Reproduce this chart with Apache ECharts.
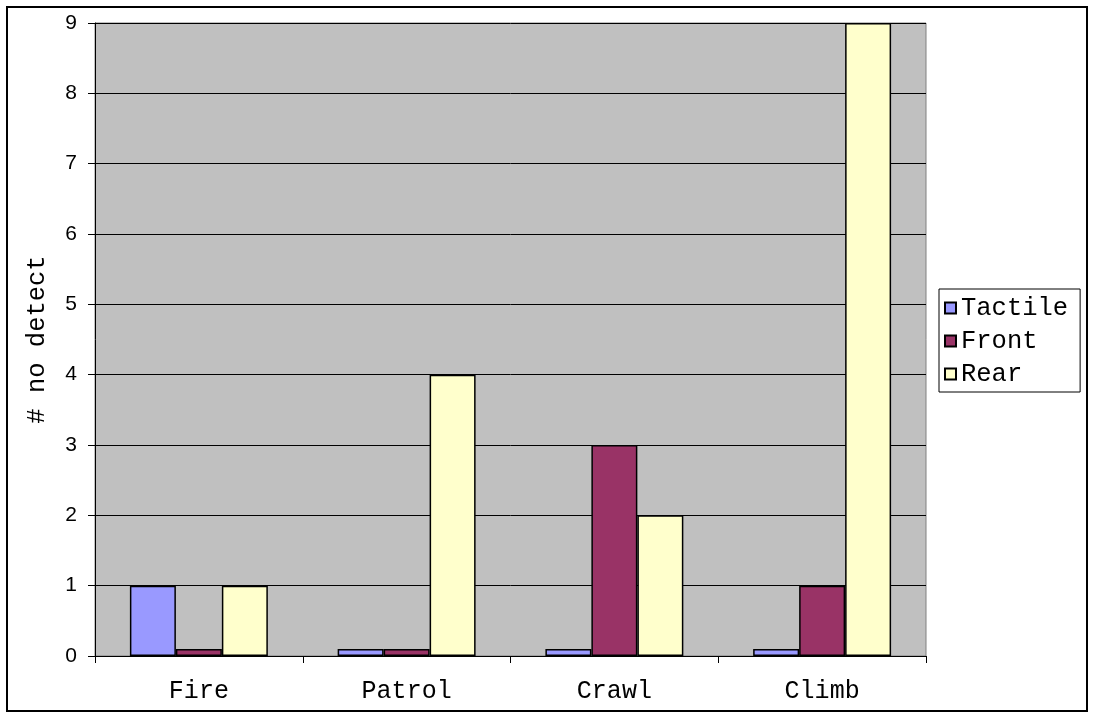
<!DOCTYPE html>
<html>
<head>
<meta charset="utf-8">
<script src="https://cdn.jsdelivr.net/npm/echarts@6/dist/echarts.min.js"></script>
<style>
  html, body { margin: 0; padding: 0; background: #ffffff; }
  #chart { width: 1094px; height: 717px; }
</style>
</head>
<body>
<div id="chart"></div>
<script>
// Detection failures per activity and sensor placement
const categories = ['Fire', 'Patrol', 'Crawl', 'Climb'];
const tactile = [1, 0.1, 0.1, 0.1];
const front = [0.1, 0.1, 3, 1];
const rear = [1, 4, 2, 9];
const yTicks = [0, 1, 2, 3, 4, 5, 6, 7, 8, 9];

const mono = '"Liberation Mono", "Courier New", monospace';
const sans = '"Liberation Sans", Arial, sans-serif';

const chart = echarts.init(document.getElementById('chart'), null, { renderer: 'canvas' });

function barSeries(name, data, color) {
  return {
    name: name,
    type: 'bar',
    data: data,
    barGap: '0%',
    barCategoryGap: '33.6%',
    itemStyle: { color: color, borderColor: '#000000', borderWidth: 1.5 },
    emphasis: { disabled: true },
    animation: false
  };
}

chart.setOption({
  animation: false,
  backgroundColor: '#ffffff',
  graphic: [{
    type: 'rect',
    shape: { x: 7, y: 7, width: 1080, height: 704 },
    style: { fill: 'none', stroke: '#000000', lineWidth: 2 },
    silent: true,
    z: 100
  }],
  grid: {
    left: 95, right: 168, top: 23, bottom: 61,
    show: true,
    backgroundColor: '#c0c0c0',
    borderColor: '#808080',
    borderWidth: 1
  },
  legend: {
    orient: 'vertical',
    left: 939,
    top: 289,
    padding: [6, 12, 5, 5],
    itemGap: 7,
    itemWidth: 11,
    itemHeight: 11,
    borderColor: '#000000',
    borderWidth: 1,
    backgroundColor: '#ffffff',
    icon: 'rect',
    selectedMode: false,
    textStyle: { fontFamily: mono, fontSize: 25.5, color: '#000000', padding: [0, 0, 0, 0] },
    data: ['Tactile', 'Front', 'Rear']
  },
  xAxis: {
    type: 'category',
    data: categories,
    axisLine: { show: true, lineStyle: { color: '#000000', width: 1 } },
    axisTick: { show: true, inside: false, length: 7, alignWithLabel: false, lineStyle: { color: '#000000' } },
    axisLabel: { fontFamily: mono, fontSize: 25, color: '#000000', margin: 23 },
    splitLine: { show: false }
  },
  yAxis: {
    type: 'value',
    min: yTicks[0],
    max: yTicks[yTicks.length - 1],
    interval: 1,
    name: '# no detect',
    nameLocation: 'middle',
    nameGap: 45,
    nameTextStyle: { fontFamily: mono, fontSize: 25.5, color: '#000000' },
    axisLine: { show: true, lineStyle: { color: '#000000', width: 1 } },
    axisTick: { show: true, inside: false, length: 7, lineStyle: { color: '#000000' } },
    axisLabel: { fontFamily: sans, fontSize: 21, color: '#000000', margin: 18 },
    splitLine: { show: true, lineStyle: { color: '#000000', width: 1 } }
  },
  series: [
    barSeries('Tactile', tactile, '#9999ff'),
    barSeries('Front', front, '#993366'),
    barSeries('Rear', rear, '#ffffcc')
  ]
});
</script>
</body>
</html>
